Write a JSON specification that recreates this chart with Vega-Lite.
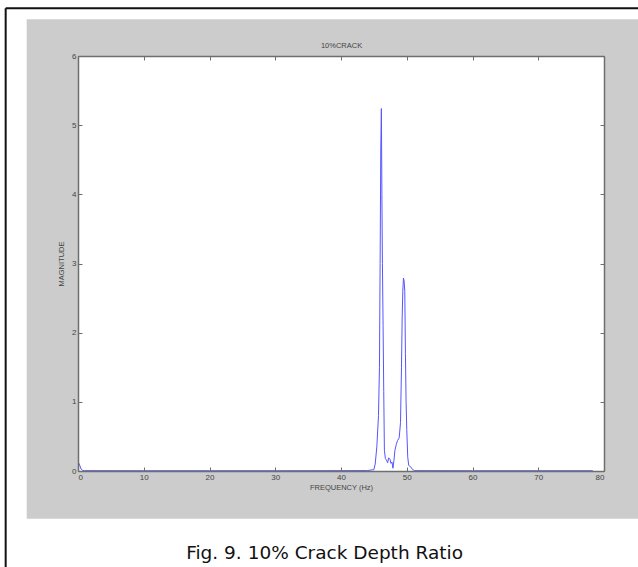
{
  "$schema": "https://vega.github.io/schema/vega-lite/v6.json",
  "autosize": {"type": "none"},
  "width": 526,
  "height": 415,
  "padding": {"left": 78, "top": 56, "right": 34, "bottom": 96},
  "background": "white",
  "view": {"stroke": null},
  "datasets": {
    "spectrum": [
      {"freq": 0, "mag": 0.13}, {"freq": 0.2, "mag": 0.1}, {"freq": 0.45, "mag": 0.03},
      {"freq": 0.7, "mag": 0.01}, {"freq": 1, "mag": 0.005}, {"freq": 10, "mag": 0.004},
      {"freq": 20, "mag": 0.004}, {"freq": 30, "mag": 0.004}, {"freq": 40, "mag": 0.005},
      {"freq": 44, "mag": 0.006}, {"freq": 45, "mag": 0.02}, {"freq": 45.2, "mag": 0.1},
      {"freq": 45.45, "mag": 0.35}, {"freq": 45.7, "mag": 0.8}, {"freq": 45.85, "mag": 1.5},
      {"freq": 45.95, "mag": 3.0}, {"freq": 46.05, "mag": 4.64}, {"freq": 46.14, "mag": 5.24},
      {"freq": 46.22, "mag": 4.0}, {"freq": 46.3, "mag": 3.0}, {"freq": 46.4, "mag": 2.1},
      {"freq": 46.5, "mag": 1.15}, {"freq": 46.6, "mag": 0.3}, {"freq": 46.75, "mag": 0.18},
      {"freq": 46.9, "mag": 0.16}, {"freq": 47.1, "mag": 0.12}, {"freq": 47.25, "mag": 0.19},
      {"freq": 47.45, "mag": 0.17}, {"freq": 47.6, "mag": 0.11}, {"freq": 47.75, "mag": 0.13},
      {"freq": 47.9, "mag": 0.04}, {"freq": 48.05, "mag": 0.15}, {"freq": 48.2, "mag": 0.3},
      {"freq": 48.4, "mag": 0.38}, {"freq": 48.6, "mag": 0.44}, {"freq": 48.85, "mag": 0.48},
      {"freq": 49.05, "mag": 0.7}, {"freq": 49.2, "mag": 1.5}, {"freq": 49.3, "mag": 2.2},
      {"freq": 49.4, "mag": 2.6}, {"freq": 49.5, "mag": 2.79}, {"freq": 49.6, "mag": 2.75},
      {"freq": 49.7, "mag": 2.6}, {"freq": 49.8, "mag": 1.7}, {"freq": 49.9, "mag": 1.0},
      {"freq": 50.0, "mag": 0.6}, {"freq": 50.15, "mag": 0.2}, {"freq": 50.3, "mag": 0.08},
      {"freq": 50.6, "mag": 0.06}, {"freq": 50.9, "mag": 0.02}, {"freq": 51.2, "mag": 0.005},
      {"freq": 60, "mag": 0.004}, {"freq": 70, "mag": 0.004}, {"freq": 78.3, "mag": 0.004}
    ],
    "figure": [{"x0": -7.8, "x1": 85.2, "y0": -0.69, "y1": 6.53}],
    "axesBox": [{"x0": 0, "x1": 80, "y0": 0, "y1": 6}],
    "pageEdgeTop": [{"x0": -11, "x1": 85.6, "y": 6.69}],
    "pageEdgeLeft": [{"x": -11, "y0": -1.4, "y1": 6.69}],
    "caption": [{"x": 37.5, "y": -1.27, "text": "Fig. 9. 10% Crack Depth Ratio"}]
  },
  "config": {
    "font": "Liberation Sans",
    "axis": {
      "grid": false,
      "domainColor": "#6e6e6e",
      "domainWidth": 1.5,
      "tickColor": "#6e6e6e",
      "tickWidth": 1,
      "tickSize": -4,
      "labelFont": "Liberation Sans",
      "labelFontSize": 8,
      "labelColor": "#444444",
      "titleFont": "Liberation Sans",
      "titleFontSize": 7.5,
      "titleFontWeight": "normal",
      "titleColor": "#444444"
    }
  },
  "resolve": {"axis": {"x": "independent", "y": "independent"}},
  "layer": [
    {
      "data": {"name": "figure"},
      "mark": {"type": "rect", "color": "#cccccc", "clip": false},
      "encoding": {
        "x": {"field": "x0", "type": "quantitative", "axis": null},
        "x2": {"field": "x1"},
        "y": {"field": "y0", "type": "quantitative", "axis": null},
        "y2": {"field": "y1"}
      }
    },
    {
      "data": {"name": "pageEdgeTop"},
      "mark": {"type": "rule", "color": "#111111", "strokeWidth": 2, "clip": false},
      "encoding": {
        "x": {"field": "x0", "type": "quantitative", "axis": null},
        "x2": {"field": "x1"},
        "y": {"field": "y", "type": "quantitative", "axis": null}
      }
    },
    {
      "data": {"name": "pageEdgeLeft"},
      "mark": {"type": "rule", "color": "#111111", "strokeWidth": 2, "clip": false},
      "encoding": {
        "x": {"field": "x", "type": "quantitative", "axis": null},
        "y": {"field": "y0", "type": "quantitative", "axis": null},
        "y2": {"field": "y1"}
      }
    },
    {
      "data": {"name": "caption"},
      "mark": {"type": "text", "font": "DejaVu Sans", "fontSize": 18.5, "color": "#111111", "align": "center", "baseline": "alphabetic", "clip": false},
      "encoding": {
        "x": {"field": "x", "type": "quantitative", "axis": null},
        "y": {"field": "y", "type": "quantitative", "axis": null},
        "text": {"field": "text"}
      }
    },
    {
      "data": {"name": "axesBox"},
      "mark": {"type": "rect", "color": "white"},
      "encoding": {
        "x": {
          "field": "x0", "type": "quantitative",
          "scale": {"domain": [0, 80], "nice": false, "zero": false},
          "axis": {"orient": "top", "zindex": 2, "values": [0, 10, 20, 30, 40, 50, 60, 70, 80], "labels": false, "title": "10%CRACK", "titlePadding": 6}
        },
        "x2": {"field": "x1"},
        "y": {
          "field": "y0", "type": "quantitative",
          "scale": {"domain": [0, 6], "nice": false, "zero": false},
          "axis": {"orient": "right", "zindex": 2, "values": [0, 1, 2, 3, 4, 5, 6], "labels": false, "title": null}
        },
        "y2": {"field": "y1"}
      }
    },
    {
      "data": {"name": "spectrum"},
      "mark": {"type": "line", "color": "#5555ff", "strokeWidth": 1, "clip": true},
      "encoding": {
        "x": {
          "field": "freq", "type": "quantitative",
          "scale": {"domain": [0, 80], "nice": false, "zero": false},
          "axis": {"orient": "bottom", "zindex": 2, "values": [0, 10, 20, 30, 40, 50, 60, 70, 80], "title": "FREQUENCY (Hz)", "labelPadding": 6, "titlePadding": 2}
        },
        "y": {
          "field": "mag", "type": "quantitative",
          "scale": {"domain": [0, 6], "nice": false, "zero": false},
          "axis": {"orient": "left", "zindex": 2, "values": [0, 1, 2, 3, 4, 5, 6], "title": "MAGNITUDE", "labelPadding": 6, "titlePadding": 6}
        }
      }
    }
  ]
}
